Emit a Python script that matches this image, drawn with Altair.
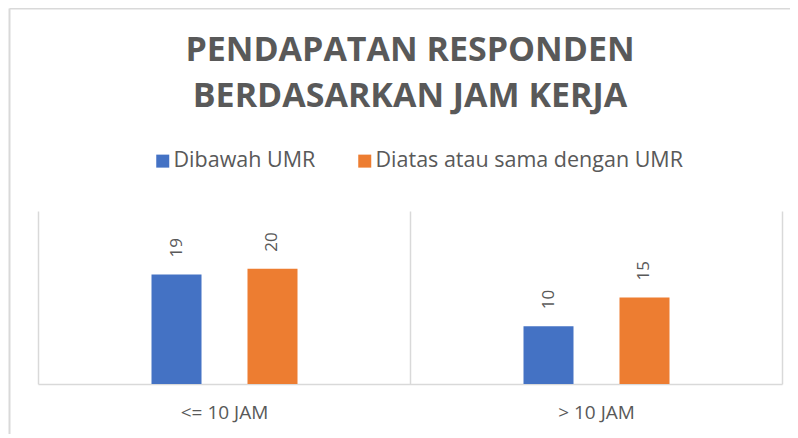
import altair as alt
import pandas as pd

categories = ["<= 10 JAM", "> 10 JAM"]
series = ["Dibawah UMR", "Diatas atau sama dengan UMR"]
dibawah = [19, 10]
diatas = [20, 15]
colors = ["#4472C4", "#ED7D31"]

rows = []
for i, c in enumerate(categories):
    rows.append({"kategori": c, "seri": series[0], "nilai": dibawah[i]})
    rows.append({"kategori": c, "seri": series[1], "nilai": diatas[i]})
df = pd.DataFrame(rows)

W, H = 744, 173
GRAY = "#595959"
LINE = "#d9d9d9"
FONT = "Open Sans"

x_enc = alt.X(
    "kategori:N",
    sort=categories,
    scale=alt.Scale(paddingInner=0, paddingOuter=0),
    axis=alt.Axis(
        title=None, labelAngle=0, ticks=False, grid=True, tickBand="extent",
        gridColor=LINE, gridWidth=1.5, domainColor=LINE, domainWidth=1.5,
        labelColor=GRAY, labelFont=FONT, labelFontSize=19, labelPadding=19,
    ),
)
xo_enc = alt.XOffset("seri:N", sort=series,
                     scale=alt.Scale(range=[113.5, 259.5], paddingInner=0.479,
                                     paddingOuter=0))
y_enc = alt.Y("nilai:Q", scale=alt.Scale(domain=[0, 30]), axis=None)

base = alt.Chart(df)
bars = base.mark_bar().encode(
    x=x_enc, xOffset=xo_enc, y=y_enc,
    color=alt.Color(
        "seri:N", sort=series,
        scale=alt.Scale(domain=series, range=colors),
        legend=alt.Legend(
            title=None, orient="none", direction="horizontal",
            legendX=114, legendY=-61, symbolType="square", symbolSize=169,
            symbolStrokeWidth=0, labelFont=FONT, labelFontSize=21.5,
            labelColor=GRAY, labelOffset=0, columnPadding=38, labelLimit=500,
        ),
    ),
)
labels = base.mark_text(
    angle=270, align="left", baseline="middle", dx=17,
    font=FONT, fontSize=17, color=GRAY,
).encode(x=x_enc, xOffset=xo_enc, y=y_enc, text="nilai:Q")

border = alt.Chart(alt.Data(values=[{"a": 1}]))
left_border = border.mark_rule(color=LINE, strokeWidth=2).encode(
    x=alt.value(-28.5), y=alt.value(-202.5), y2=alt.value(H + 60))
top_border = border.mark_rule(color=LINE, strokeWidth=2).encode(
    x=alt.value(-28.5), x2=alt.value(W + 20), y=alt.value(-202.5))

chart = alt.layer(bars, labels, left_border, top_border).properties(
    width=W, height=H,
    autosize=alt.AutoSizeParams(type="none"),
    padding={"left": 30, "top": 203, "right": 8, "bottom": 50},
    title=alt.Title(
        ["PENDAPATAN RESPONDEN", "BERDASARKAN JAM KERJA"],
        font=FONT, fontSize=34, fontWeight="bold", color=GRAY,
        lineHeight=46, anchor="middle", offset=-140, baseline="bottom",
    ),
).configure_view(stroke=None)

chart.save("out.html", embed_options={"renderer": "svg", "actions": False})
